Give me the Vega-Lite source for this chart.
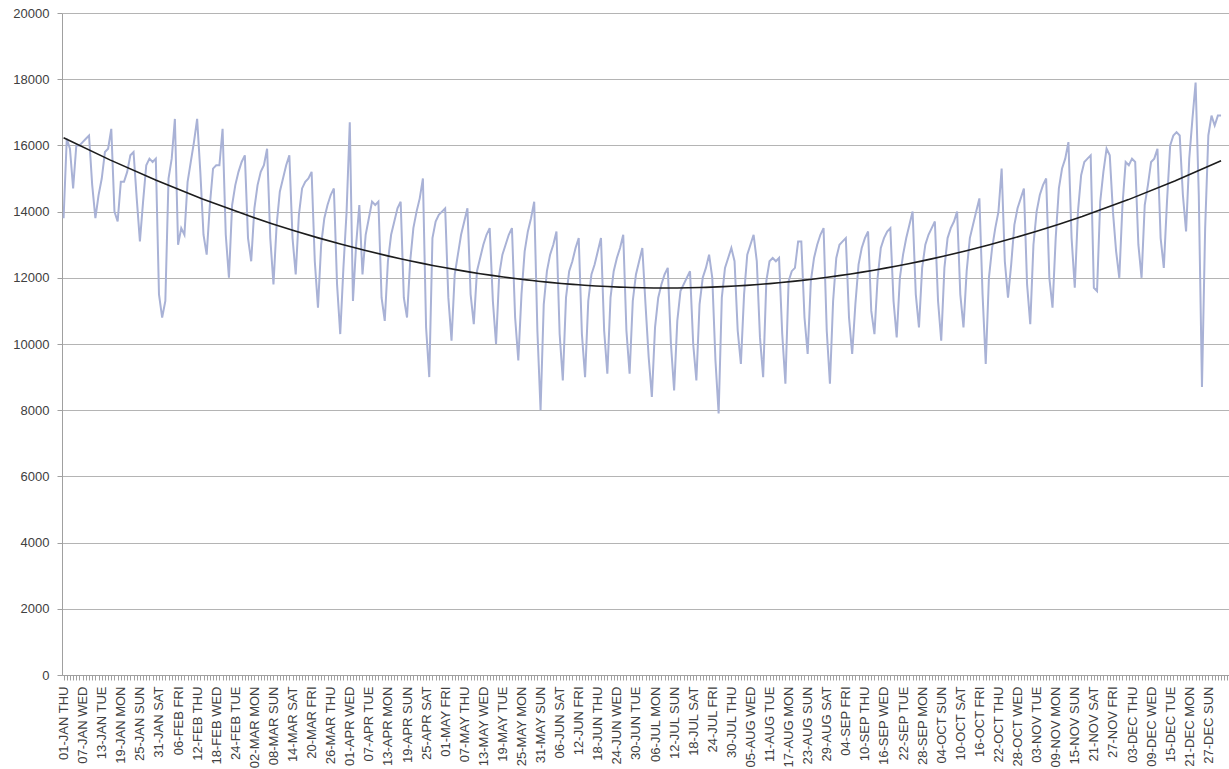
{
"$schema":"https://vega.github.io/schema/vega-lite/v6.json",
"width":1167,"height":662,
"autosize":{"type":"none"},
"padding":{"left":62,"top":13,"right":0,"bottom":94},
"background":"white",
"config":{"view":{"stroke":null},"font":"Liberation Sans"},
"data":{"values":[
{"day":0,"value":13800},{"day":1,"value":16200},{"day":2,"value":15900},
{"day":3,"value":14700},{"day":4,"value":16000},{"day":5,"value":16000},{"day":6,"value":16100},{"day":7,"value":16200},{"day":8,"value":16300},{"day":9,"value":14800},
{"day":10,"value":13800},{"day":11,"value":14500},{"day":12,"value":15000},{"day":13,"value":15800},{"day":14,"value":15900},{"day":15,"value":16500},{"day":16,"value":14000},
{"day":17,"value":13700},{"day":18,"value":14900},{"day":19,"value":14900},{"day":20,"value":15200},{"day":21,"value":15700},{"day":22,"value":15800},{"day":23,"value":14400},
{"day":24,"value":13100},{"day":25,"value":14300},{"day":26,"value":15400},{"day":27,"value":15600},{"day":28,"value":15500},{"day":29,"value":15600},{"day":30,"value":11500},
{"day":31,"value":10800},{"day":32,"value":11300},{"day":33,"value":15000},{"day":34,"value":15600},{"day":35,"value":16800},{"day":36,"value":13000},{"day":37,"value":13500},
{"day":38,"value":13300},{"day":39,"value":14900},{"day":40,"value":15500},{"day":41,"value":16100},{"day":42,"value":16800},{"day":43,"value":15200},{"day":44,"value":13300},
{"day":45,"value":12700},{"day":46,"value":14200},{"day":47,"value":15300},{"day":48,"value":15400},{"day":49,"value":15400},{"day":50,"value":16500},{"day":51,"value":13300},
{"day":52,"value":12000},{"day":53,"value":14200},{"day":54,"value":14800},{"day":55,"value":15200},{"day":56,"value":15500},{"day":57,"value":15700},{"day":58,"value":13200},
{"day":59,"value":12500},{"day":60,"value":14100},{"day":61,"value":14800},{"day":62,"value":15200},{"day":63,"value":15400},{"day":64,"value":15900},{"day":65,"value":13200},
{"day":66,"value":11800},{"day":67,"value":13600},{"day":68,"value":14600},{"day":69,"value":15000},{"day":70,"value":15400},{"day":71,"value":15700},{"day":72,"value":13200},
{"day":73,"value":12100},{"day":74,"value":13900},{"day":75,"value":14700},{"day":76,"value":14900},{"day":77,"value":15000},{"day":78,"value":15200},{"day":79,"value":12500},
{"day":80,"value":11100},{"day":81,"value":13000},{"day":82,"value":13800},{"day":83,"value":14200},{"day":84,"value":14500},{"day":85,"value":14700},{"day":86,"value":11800},
{"day":87,"value":10300},{"day":88,"value":12300},{"day":89,"value":14000},{"day":90,"value":16700},{"day":91,"value":11300},{"day":92,"value":13000},{"day":93,"value":14200},
{"day":94,"value":12100},{"day":95,"value":13300},{"day":96,"value":13800},{"day":97,"value":14300},{"day":98,"value":14200},{"day":99,"value":14300},{"day":100,"value":11400},
{"day":101,"value":10700},{"day":102,"value":12500},{"day":103,"value":13300},{"day":104,"value":13700},{"day":105,"value":14100},{"day":106,"value":14300},{"day":107,"value":11400},
{"day":108,"value":10800},{"day":109,"value":12500},{"day":110,"value":13500},{"day":111,"value":14000},{"day":112,"value":14400},{"day":113,"value":15000},{"day":114,"value":10500},
{"day":115,"value":9000},{"day":116,"value":13200},{"day":117,"value":13700},{"day":118,"value":13900},{"day":119,"value":14000},{"day":120,"value":14100},{"day":121,"value":11400},
{"day":122,"value":10100},{"day":123,"value":12100},{"day":124,"value":12700},{"day":125,"value":13300},{"day":126,"value":13700},{"day":127,"value":14100},{"day":128,"value":11500},
{"day":129,"value":10600},{"day":130,"value":12200},{"day":131,"value":12600},{"day":132,"value":13000},{"day":133,"value":13300},{"day":134,"value":13500},{"day":135,"value":11300},
{"day":136,"value":10000},{"day":137,"value":12100},{"day":138,"value":12700},{"day":139,"value":13000},{"day":140,"value":13300},{"day":141,"value":13500},{"day":142,"value":10800},
{"day":143,"value":9500},{"day":144,"value":11500},{"day":145,"value":12800},{"day":146,"value":13400},{"day":147,"value":13800},{"day":148,"value":14300},{"day":149,"value":10400},
{"day":150,"value":8000},{"day":151,"value":11200},{"day":152,"value":12200},{"day":153,"value":12700},{"day":154,"value":13000},{"day":155,"value":13400},{"day":156,"value":10300},
{"day":157,"value":8900},{"day":158,"value":11400},{"day":159,"value":12200},{"day":160,"value":12500},{"day":161,"value":12900},{"day":162,"value":13200},{"day":163,"value":10300},
{"day":164,"value":9000},{"day":165,"value":11300},{"day":166,"value":12100},{"day":167,"value":12400},{"day":168,"value":12800},{"day":169,"value":13200},{"day":170,"value":10400},
{"day":171,"value":9100},{"day":172,"value":11400},{"day":173,"value":12200},{"day":174,"value":12600},{"day":175,"value":12900},{"day":176,"value":13300},{"day":177,"value":10400},
{"day":178,"value":9100},{"day":179,"value":11300},{"day":180,"value":12100},{"day":181,"value":12500},{"day":182,"value":12900},{"day":183,"value":11200},{"day":184,"value":9600},
{"day":185,"value":8400},{"day":186,"value":10500},{"day":187,"value":11400},{"day":188,"value":11800},{"day":189,"value":12100},{"day":190,"value":12300},{"day":191,"value":10000},
{"day":192,"value":8600},{"day":193,"value":10700},{"day":194,"value":11600},{"day":195,"value":11800},{"day":196,"value":12000},{"day":197,"value":12200},{"day":198,"value":10000},
{"day":199,"value":8900},{"day":200,"value":11200},{"day":201,"value":12000},{"day":202,"value":12300},{"day":203,"value":12700},{"day":204,"value":12000},{"day":205,"value":9500},
{"day":206,"value":7900},{"day":207,"value":11400},{"day":208,"value":12300},{"day":209,"value":12600},{"day":210,"value":12900},{"day":211,"value":12500},{"day":212,"value":10400},
{"day":213,"value":9400},{"day":214,"value":11500},{"day":215,"value":12700},{"day":216,"value":13000},{"day":217,"value":13300},{"day":218,"value":12500},{"day":219,"value":10200},
{"day":220,"value":9000},{"day":221,"value":11900},{"day":222,"value":12500},{"day":223,"value":12600},{"day":224,"value":12500},{"day":225,"value":12600},{"day":226,"value":10300},
{"day":227,"value":8800},{"day":228,"value":11900},{"day":229,"value":12200},{"day":230,"value":12300},{"day":231,"value":13100},{"day":232,"value":13100},{"day":233,"value":10800},
{"day":234,"value":9700},{"day":235,"value":11900},{"day":236,"value":12600},{"day":237,"value":13000},{"day":238,"value":13300},{"day":239,"value":13500},{"day":240,"value":10400},
{"day":241,"value":8800},{"day":242,"value":11300},{"day":243,"value":12600},{"day":244,"value":13000},{"day":245,"value":13100},{"day":246,"value":13200},{"day":247,"value":10800},
{"day":248,"value":9700},{"day":249,"value":11200},{"day":250,"value":12400},{"day":251,"value":12900},{"day":252,"value":13200},{"day":253,"value":13400},{"day":254,"value":11000},
{"day":255,"value":10300},{"day":256,"value":12000},{"day":257,"value":12900},{"day":258,"value":13200},{"day":259,"value":13400},{"day":260,"value":13500},{"day":261,"value":11300},
{"day":262,"value":10200},{"day":263,"value":12000},{"day":264,"value":12700},{"day":265,"value":13200},{"day":266,"value":13600},{"day":267,"value":14000},{"day":268,"value":11500},
{"day":269,"value":10500},{"day":270,"value":12300},{"day":271,"value":13000},{"day":272,"value":13300},{"day":273,"value":13500},{"day":274,"value":13700},{"day":275,"value":11300},
{"day":276,"value":10100},{"day":277,"value":12300},{"day":278,"value":13200},{"day":279,"value":13500},{"day":280,"value":13700},{"day":281,"value":14000},{"day":282,"value":11500},
{"day":283,"value":10500},{"day":284,"value":12200},{"day":285,"value":13200},{"day":286,"value":13600},{"day":287,"value":14000},{"day":288,"value":14400},{"day":289,"value":11500},
{"day":290,"value":9400},{"day":291,"value":12000},{"day":292,"value":12900},{"day":293,"value":13500},{"day":294,"value":14000},{"day":295,"value":15300},{"day":296,"value":12500},
{"day":297,"value":11400},{"day":298,"value":12400},{"day":299,"value":13600},{"day":300,"value":14100},{"day":301,"value":14400},{"day":302,"value":14700},{"day":303,"value":11800},
{"day":304,"value":10600},{"day":305,"value":13000},{"day":306,"value":14000},{"day":307,"value":14500},{"day":308,"value":14800},{"day":309,"value":15000},{"day":310,"value":12000},
{"day":311,"value":11100},{"day":312,"value":13200},{"day":313,"value":14700},{"day":314,"value":15300},{"day":315,"value":15600},{"day":316,"value":16100},{"day":317,"value":13200},
{"day":318,"value":11700},{"day":319,"value":14000},{"day":320,"value":15100},{"day":321,"value":15500},{"day":322,"value":15600},{"day":323,"value":15700},{"day":324,"value":11700},
{"day":325,"value":11600},{"day":326,"value":14300},{"day":327,"value":15200},{"day":328,"value":15900},{"day":329,"value":15700},{"day":330,"value":14000},{"day":331,"value":12800},
{"day":332,"value":12000},{"day":333,"value":14200},{"day":334,"value":15500},{"day":335,"value":15400},{"day":336,"value":15600},{"day":337,"value":15500},{"day":338,"value":13000},
{"day":339,"value":12000},{"day":340,"value":14200},{"day":341,"value":14800},{"day":342,"value":15500},{"day":343,"value":15600},{"day":344,"value":15900},{"day":345,"value":13200},
{"day":346,"value":12300},{"day":347,"value":14300},{"day":348,"value":16000},{"day":349,"value":16300},{"day":350,"value":16400},{"day":351,"value":16300},{"day":352,"value":14500},
{"day":353,"value":13400},{"day":354,"value":15600},{"day":355,"value":16800},{"day":356,"value":17900},{"day":357,"value":14500},{"day":358,"value":8700},{"day":359,"value":13500},
{"day":360,"value":16300},{"day":361,"value":16900},{"day":362,"value":16600},{"day":363,"value":16900},{"day":364,"value":16900}
]},
"layer":[
{"mark":{"type":"line","color":"#a9b2d6","strokeWidth":2},
 "encoding":{
  "x":{"field":"day","type":"quantitative","scale":{"domain":[-0.5,366.5],"nice":false,"zero":false},
   "axis":{"title":null,"grid":false,"tickCount":367,"labelOverlap":false,"labelFlush":false,"labelBound":false,
    "labelExpr":"datum.value % 6 == 0 && datum.value <= 360 ? upper(timeFormat(datetime(2015,0,1+datum.value),'%d-%b %a')) : ''",
    "labelAngle":-90,"labelAlign":"right","labelBaseline":"middle","labelFontSize":13,"labelColor":"#404040","labelPadding":6,
    "tickSize":5,"tickColor":"#a0a0a0","domainColor":"#a0a0a0"}},
  "y":{"field":"value","type":"quantitative","scale":{"domain":[0,20000],"nice":false},
   "axis":{"title":null,"format":"d","values":[0,2000,4000,6000,8000,10000,12000,14000,16000,18000,20000],"grid":true,"gridColor":"#b4b4b4",
    "tickSize":5,"tickColor":"#a0a0a0","domainColor":"#a0a0a0","labelFontSize":13,"labelColor":"#404040","labelPadding":8}}
 }},
{"transform":[{"regression":"value","on":"day","method":"poly","order":2}],
 "mark":{"type":"line","color":"#1c1c1c","strokeWidth":1.6},
 "encoding":{"x":{"field":"day","type":"quantitative"},"y":{"field":"value","type":"quantitative"}}}
]
}
